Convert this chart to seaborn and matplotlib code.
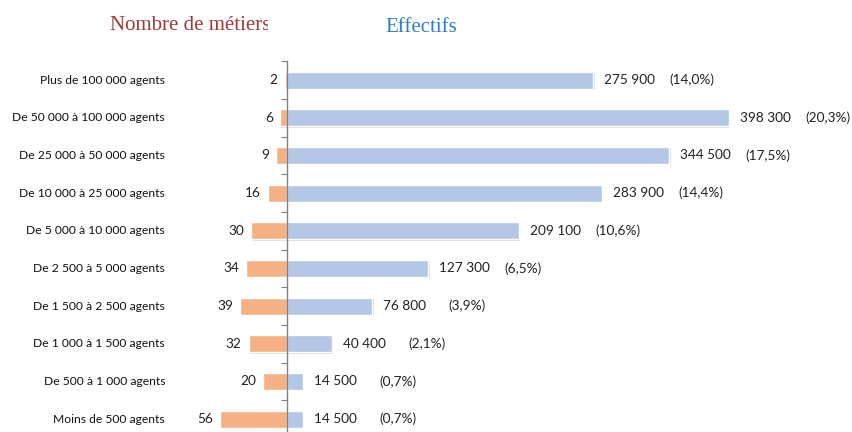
import numpy as np
import matplotlib
matplotlib.use('Agg')
import matplotlib.pyplot as plt
import seaborn as sns
from matplotlib import patheffects
from matplotlib.transforms import Bbox, TransformedBbox, blended_transform_factory

# Data
categories = ['Plus de 100 000 agents', 'De 50 000 à 100 000 agents', 'De 25 000 à 50 000 agents',
              'De 10 000 à 25 000 agents', 'De 5 000 à 10 000 agents', 'De 2 500 à 5 000 agents',
              'De 1 500 à 2 500 agents', 'De 1 000 à 1 500 agents', 'De 500 à 1 000 agents',
              'Moins de 500 agents']
nb_metiers = [2, 6, 9, 16, 30, 34, 39, 32, 20, 56]
effectifs = [275900, 398300, 344500, 283900, 209100, 127300, 76800, 40400, 14500, 14500]
parts = [14.0, 20.3, 17.5, 14.4, 10.6, 6.5, 3.9, 2.1, 0.7, 0.7]

orange = '#F5B183'
blue = '#B4C7E7'

sns.set_style('white')
plt.rcParams['font.family'] = ['Lato', 'DejaVu Sans']

W, H = 852, 432
fig = plt.figure(figsize=(W / 100, H / 100), dpi=100)

# layout in pixels
x_axis = 287
x_left = 170
top = 61.2
row = 37.67
bottom = top + 10 * row

ax_l = fig.add_axes([x_left / W, 1 - bottom / H, (x_axis - x_left) / W, 10 * row / H])
ax_r = fig.add_axes([x_axis / W, 1 - bottom / H, (W - x_axis) / W, 10 * row / H])

sns.barplot(x=nb_metiers, y=categories, ax=ax_l, color=orange, orient='h',
            width=0.45, saturation=1)
sns.barplot(x=effectifs, y=categories, ax=ax_r, color=blue, orient='h',
            width=0.45, saturation=1)

ax_l.set_xlim((x_axis - x_left) / 1.2, 0)
ax_r.set_xlim(0, (W - x_axis) * 901)
for ax in (ax_l, ax_r):
    ax.set_ylim(9.5, -0.5)
    ax.set_xlabel('')
    ax.set_ylabel('')
    ax.set_xticks([])
    for s in ax.spines.values():
        s.set_visible(False)
    for p in ax.patches:
        p.set_path_effects([patheffects.SimplePatchShadow(offset=(1, -1), shadow_rgbFace='#999999', alpha=0.35),
                            patheffects.Normal()])
ax_l.set_yticks([])

# central axis with ticks between categories
ax_r.spines['left'].set_visible(True)
ax_r.spines['left'].set_color('#808080')
ax_r.spines['left'].set_linewidth(1)
ax_r.set_yticks(np.arange(-0.5, 10, 1))
ax_r.set_yticklabels([])
ax_r.tick_params(axis='y', direction='out', length=4, color='#808080', left=True)

# category labels
tr = blended_transform_factory(fig.transFigure, ax_l.transData)
for i, c in enumerate(categories):
    fig.text(165 / W, i, c, transform=tr, ha='right', va='center', fontsize=8.7, color='#111111')

# value labels
for i, v in enumerate(nb_metiers):
    ax_l.annotate(str(v), xy=(v, i), xytext=(-5, 0), textcoords='offset points',
                  ha='right', va='center', fontsize=9.8, color='#222222')

for i, (v, pc) in enumerate(zip(effectifs, parts)):
    num = f'{v:,}'.replace(',', ' ')
    pct = '(' + f'{pc:.1f}'.replace('.', ',') + '%)'
    ax_r.annotate(num, xy=(v, i), xytext=(8, 0), textcoords='offset points',
                  ha='left', va='center', fontsize=9.8, color='#222222')
    ax_r.annotate(pct, xy=(v, i), xytext=(55, 0), textcoords='offset points',
                  ha='left', va='center', fontsize=9.8, color='#222222')

# titles
t1 = fig.text(110 / W, 1 - 25 / H, 'Nombre de métiers', ha='left', va='center',
              fontsize=15, color='#9E3A38', family='Liberation Serif')
t1.set_clip_on(True)
t1.set_clip_box(TransformedBbox(Bbox.from_extents(0, 0, 268 / W, 1), fig.transFigure))
fig.text(385 / W, 1 - 27 / H, 'Effectifs', ha='left', va='center',
         fontsize=15, color='#2F7EC6', family='Liberation Serif')

fig.savefig('out.png', dpi=100)
